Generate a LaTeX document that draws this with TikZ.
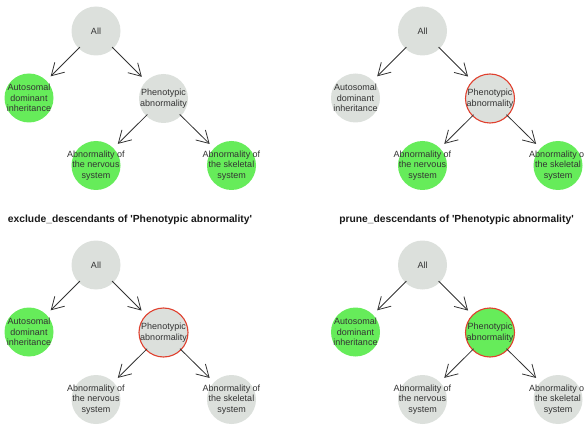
\documentclass[tikz,border=0pt]{standalone}
\usepackage{fontspec}
\setmainfont{Liberation Sans}
\usepackage{xcolor}
\usepackage{tikz}
\usetikzlibrary{arrows.meta}
\definecolor{termgray}{HTML}{DCE0DC}
\definecolor{termgreen}{HTML}{66EC5A}
\definecolor{ringred}{HTML}{E0402E}
\definecolor{txt}{HTML}{333333}
\tikzset{
term/.style={circle,minimum size=49pt,inner sep=0pt,fill=termgray,
  label={[align=center,text=txt,inner sep=0pt,font=\fontsize{9}{10.7}\selectfont]center:#1}},
kept/.style={fill=termgreen},
picked/.style={draw=ringred,line width=1.1pt},
isa/.style={draw=txt,line width=0.8pt,-{Straight Barb[length=12pt,width=14pt]},
  shorten >=6pt,shorten <=-2pt},
caption/.style={font=\fontsize{10.3}{12}\selectfont\bfseries,text=black!90}
}
\newcommand{\sq}{\textquotesingle}

\begin{document}
\begin{tikzpicture}[x=1pt,y=-1pt]
\useasboundingbox (0,0) rectangle (584,425);
\clip (0,0) rectangle (584,425);
% top left
\begin{scope}
\node[term=All](a1) at (96,31){};
\node[term={Autosomal\\dominant\\inheritance},kept](b1) at (29,98){};
\node[term={Phenotypic\\abnormality}](c1) at (163.5,98.5){};
\node[term={Abnormality of\\the nervous\\system},kept](d1) at (96,165.5){};
\node[term={Abnormality of\\the skeletal\\system},kept](e1) at (231.5,165.5){};
\draw[isa](a1)--(b1);
\draw[isa](a1)--(c1);
\draw[isa](c1)--(d1);
\draw[isa](c1)--(e1);
\end{scope}
% top right
\begin{scope}[shift={(326.5,0)}]
\node[term=All](a2) at (96,31){};
\node[term={Autosomal\\dominant\\inheritance}](b2) at (29,98){};
\node[term={Phenotypic\\abnormality},picked](c2) at (163.5,98.5){};
\node[term={Abnormality of\\the nervous\\system},kept](d2) at (96,165.5){};
\node[term={Abnormality of\\the skeletal\\system},kept](e2) at (231.5,165.5){};
\draw[isa](a2)--(b2);
\draw[isa](a2)--(c2);
\draw[isa](c2)--(d2);
\draw[isa](c2)--(e2);
\end{scope}
% bottom left
\begin{scope}[shift={(0,234)}]
\node[caption](t3) at (130,-14){exclude\_descendants of \sq Phenotypic abnormality\sq};
\node[term=All](a3) at (96,31){};
\node[term={Autosomal\\dominant\\inheritance},kept](b3) at (29,98){};
\node[term={Phenotypic\\abnormality},picked](c3) at (163.5,98.5){};
\node[term={Abnormality of\\the nervous\\system}](d3) at (96,165.5){};
\node[term={Abnormality of\\the skeletal\\system}](e3) at (231.5,165.5){};
\draw[isa](a3)--(b3);
\draw[isa](a3)--(c3);
\draw[isa](c3)--(d3);
\draw[isa](c3)--(e3);
\end{scope}
% bottom right
\begin{scope}[shift={(326.5,234)}]
\node[caption](t4) at (130,-14){prune\_descendants of \sq Phenotypic abnormality\sq};
\node[term=All](a4) at (96,31){};
\node[term={Autosomal\\dominant\\inheritance},kept](b4) at (29,98){};
\node[term={Phenotypic\\abnormality},kept,picked](c4) at (163.5,98.5){};
\node[term={Abnormality of\\the nervous\\system}](d4) at (96,165.5){};
\node[term={Abnormality of\\the skeletal\\system}](e4) at (231.5,165.5){};
\draw[isa](a4)--(b4);
\draw[isa](a4)--(c4);
\draw[isa](c4)--(d4);
\draw[isa](c4)--(e4);
\end{scope}
\end{tikzpicture}
\end{document}
